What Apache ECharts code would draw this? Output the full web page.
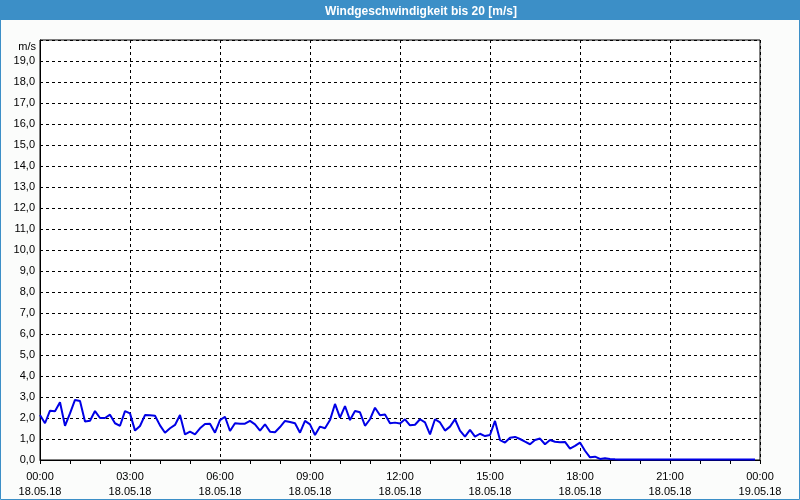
<!DOCTYPE html>
<html><head><meta charset="utf-8">
<script src="https://cdn.jsdelivr.net/npm/echarts@6/dist/echarts.min.js"></script>
<style>html,body{margin:0;padding:0;background:#fbfcfb}#c{width:800px;height:500px}</style>
</head><body><div id="c"></div><script>
const chartTitle = 'Windgeschwindigkeit bis 20 [m/s]';
const unitLabel = 'm/s';
const stepMinutes = 10;
const windSpeed = [
  2.14,1.75,2.35,2.32,2.75,1.63,2.22,2.86,2.81,1.83,
  1.87,2.33,2.00,2.00,2.16,1.75,1.63,2.33,2.22,1.40,
  1.62,2.14,2.13,2.11,1.65,1.30,1.51,1.67,2.14,1.22,
  1.35,1.22,1.51,1.71,1.73,1.30,1.90,2.06,1.38,1.75,
  1.73,1.73,1.86,1.70,1.40,1.70,1.35,1.32,1.57,1.86,
  1.81,1.75,1.30,1.86,1.70,1.19,1.59,1.51,1.90,2.67,
  2.02,2.57,1.90,2.33,2.27,1.63,1.94,2.49,2.13,2.17,
  1.75,1.78,1.74,1.94,1.65,1.68,1.94,1.79,1.22,1.94,
  1.79,1.40,1.59,1.94,1.40,1.11,1.43,1.11,1.25,1.14,
  1.19,1.86,0.95,0.83,1.06,1.10,1.00,0.87,0.75,0.95,
  1.02,0.75,0.95,0.87,0.84,0.86,0.54,0.67,0.83,0.44,
  0.13,0.16,0.05,0.08,0.05,0.03,0.02,0.02,0.02,0.02,
  0.02,0.02,0.02,0.02,0.02,0.02,0.02,0.02,0.02,0.02,
  0.02,0.02,0.02,0.02,0.02,0.02,0.02,0.02,0.02,0.02,
  0.02,0.02,0.02,0.02
];
const timeLabels = ['00:00','03:00','06:00','09:00','12:00','15:00','18:00','21:00','00:00'];
const dateLabels = ['18.05.18','18.05.18','18.05.18','18.05.18','18.05.18','18.05.18','18.05.18','18.05.18','19.05.18'];
const yTickLabels = ['0,0','1,0','2,0','3,0','4,0','5,0','6,0','7,0','8,0','9,0','10,0','11,0','12,0','13,0','14,0','15,0','16,0','17,0','18,0','19,0'];

const FONT = 'Liberation Sans';
const blue = '#3c8fc7';
const chart = echarts.init(document.getElementById('c'), null, {renderer:'canvas'});
chart.setOption({
  backgroundColor: '#fbfcfb',
  animation: false,
  title: {
    text: chartTitle, left: 320, top: 1, z: 10,
    textStyle: {color:'#fff', fontFamily: FONT, fontSize: 12, fontWeight: 'bold'}
  },
  graphic: [
    {type:'rect', z: 0, shape:{x:0, y:0, width:800, height:20}, style:{fill: blue}},
    {type:'rect', z: 0, shape:{x:0.5, y:0.5, width:799, height:499}, style:{fill:'none', stroke: blue, lineWidth:1}}
  ],
  grid: {left:40, right:40, top:40, bottom:40, show:true, backgroundColor:'#fff', borderColor:'#000', borderWidth:1},
  xAxis: [
    {
      type:'value', min:0, max:1440, interval:180, position:'bottom',
      axisLine:{show:true, lineStyle:{color:'#000', width:1}},
      axisTick:{show:false},
      axisLabel:{
        color:'#000', fontFamily:FONT, fontSize:11, lineHeight:15, margin:9,
        formatter: v => { const i = Math.round(v/180); return timeLabels[i] + '\n' + dateLabels[i]; }
      },
      splitLine:{show:true, lineStyle:{color:'#000', type:[3,3], width:1}}
    },
    {
      type:'value', min:0, max:1440, interval:60, position:'bottom',
      axisLine:{show:false},
      axisTick:{show:true, length:4, lineStyle:{color:'#000'}},
      axisLabel:{show:false},
      splitLine:{show:false}
    }
  ],
  yAxis: {
    type:'value', min:0, max:20, interval:1,
    name: unitLabel, nameLocation:'end', nameGap:-7,
    nameTextStyle:{color:'#000', fontFamily:FONT, fontSize:11, align:'right', verticalAlign:'middle', padding:[0,4,0,0]},
    axisLine:{show:true, lineStyle:{color:'#000', width:1}},
    axisTick:{show:false},
    axisLabel:{
      color:'#000', fontFamily:FONT, fontSize:11, margin:5, padding:[4,0,0,0],
      formatter: v => (v >= 20 ? '' : yTickLabels[v])
    },
    splitLine:{show:true, lineStyle:{color:'#000', type:[3,3], width:1}}
  },
  series: [{
    type:'line', xAxisIndex:0, symbol:'none',
    lineStyle:{color:'#0000e6', width:2},
    data: windSpeed.map((v,i) => [i*stepMinutes, v])
  }]
});
</script></body></html>
